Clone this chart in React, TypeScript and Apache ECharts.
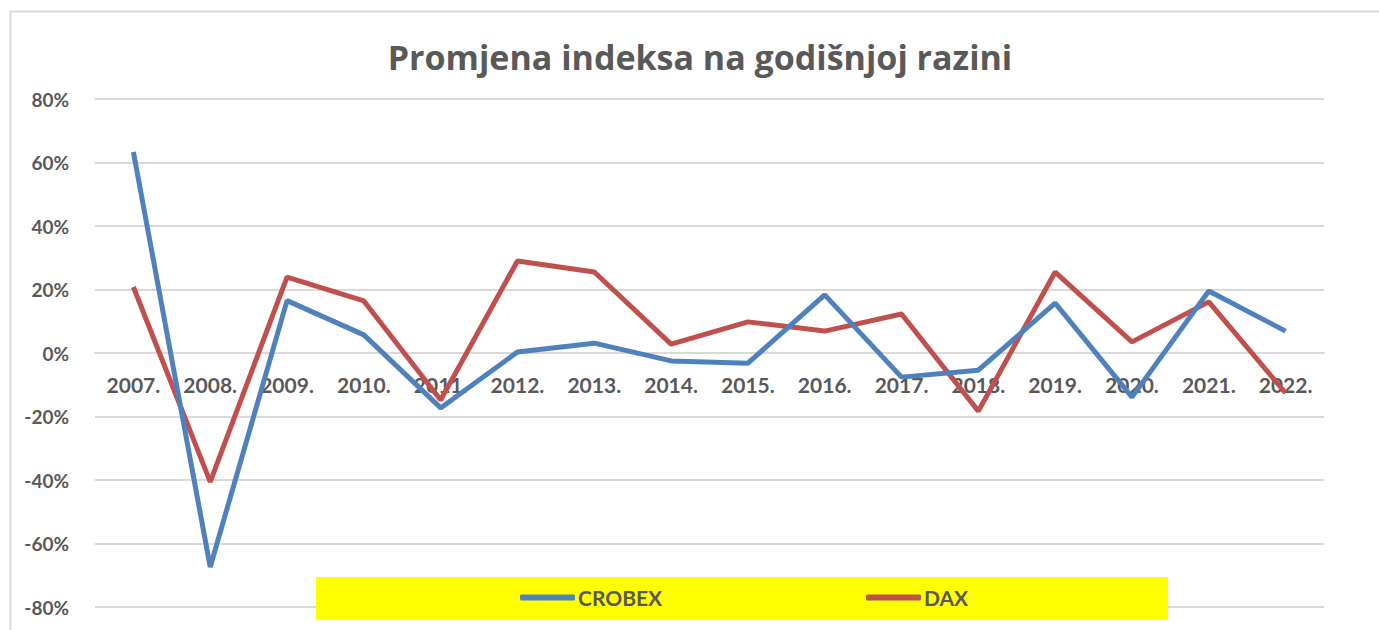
import React, { useEffect, useRef } from "react";
import * as echarts from "echarts";

const years = ["2007.", "2008.", "2009.", "2010.", "2011.", "2012.", "2013.", "2014.", "2015.", "2016.", "2017.", "2018.", "2019.", "2020.", "2021.", "2022."];
const crobex = [63.3, -67.4, 16.5, 5.7, -17.3, 0.3, 3.1, -2.5, -3.2, 18.3, -7.6, -5.4, 15.7, -13.9, 19.5, 6.9];
const dax = [20.8, -40.6, 23.9, 16.4, -14.8, 29.0, 25.5, 2.8, 9.8, 6.9, 12.3, -18.3, 25.5, 3.5, 16.1, -12.6];
const titleText = "Promjena indeksa na godišnjoj razini";

const FONT = "Lato";
const TITLE_FONT = "'Open Sans'";
const GRAY = "#595959";
const BLUE = "#4F81BD";
const RED = "#C0504D";

export default function App() {
  const ref = useRef<HTMLDivElement>(null);
  useEffect(() => {
    if (!ref.current) return;
    const chart = echarts.init(ref.current, null, { renderer: "svg" });
    chart.setOption({
      animation: false,
      backgroundColor: "#ffffff",
      textStyle: { fontFamily: FONT },
      graphic: [
        {
          type: "rect",
          z: -10,
          shape: { x: 10.5, y: 11.5, width: 1500, height: 800 },
          style: { fill: "#ffffff", stroke: "#d9d9d9", lineWidth: 2 },
        },
        {
          type: "rect",
          z: 5,
          shape: { x: 316, y: 577, width: 852, height: 43 },
          style: { fill: "#ffff00" },
        },
        {
          type: "text",
          x: 700,
          y: 57,
          style: {
            text: titleText,
            fill: GRAY,
            font: `bold 34px ${TITLE_FONT}`,
            textAlign: "center",
            textVerticalAlign: "middle",
          },
        },
      ],
      grid: { left: 95, right: 55, top: 99, bottom: 23, containLabel: false },
      xAxis: {
        type: "category",
        data: years,
        boundaryGap: true,
        position: "bottom",
        offset: -254,
        axisLine: { onZero: false, lineStyle: { color: "#d9d9d9", width: 2 } },
        axisTick: { show: false },
        axisLabel: { color: GRAY, fontSize: 21, fontWeight: "bold", fontFamily: FONT, margin: 21, interval: 0 },
        splitLine: { show: false },
      },
      yAxis: {
        type: "value",
        min: -80,
        max: 80,
        interval: 20,
        axisLine: { show: false },
        axisTick: { show: false },
        axisLabel: { color: GRAY, fontSize: 19, fontWeight: "bold", fontFamily: FONT, margin: 26, formatter: "{value}%" },
        splitLine: { lineStyle: { color: "#d9d9d9", width: 2 } },
      },
      legend: [
        {
          data: ["CROBEX"],
          left: 520,
          top: 587,
          z: 10,
          itemWidth: 55,
          itemHeight: 6,
          icon: "roundRect",
          itemGap: 0,
          textStyle: { color: GRAY, fontSize: 21, fontWeight: "bold", fontFamily: FONT, padding: [0, 0, 0, -2] },
          padding: 0,
        },
        {
          data: ["DAX"],
          left: 866,
          top: 587,
          z: 10,
          itemWidth: 55,
          itemHeight: 6,
          icon: "roundRect",
          itemGap: 0,
          textStyle: { color: GRAY, fontSize: 21, fontWeight: "bold", fontFamily: FONT, padding: [0, 0, 0, -2] },
          padding: 0,
        },
      ],
      series: [
        {
          name: "CROBEX",
          type: "line",
          data: crobex,
          color: BLUE,
          showSymbol: false,
          symbol: "none",
          lineStyle: { color: BLUE, width: 5 },
          z: 3,
        },
        {
          name: "DAX",
          type: "line",
          data: dax,
          color: RED,
          showSymbol: false,
          symbol: "none",
          lineStyle: { color: RED, width: 5 },
          z: 2,
        },
      ],
    });
    return () => chart.dispose();
  }, []);
  return (
    <div
      ref={ref}
      style={{ position: "fixed", left: 0, top: 0, width: 1379, height: 630 }}
    />
  );
}
